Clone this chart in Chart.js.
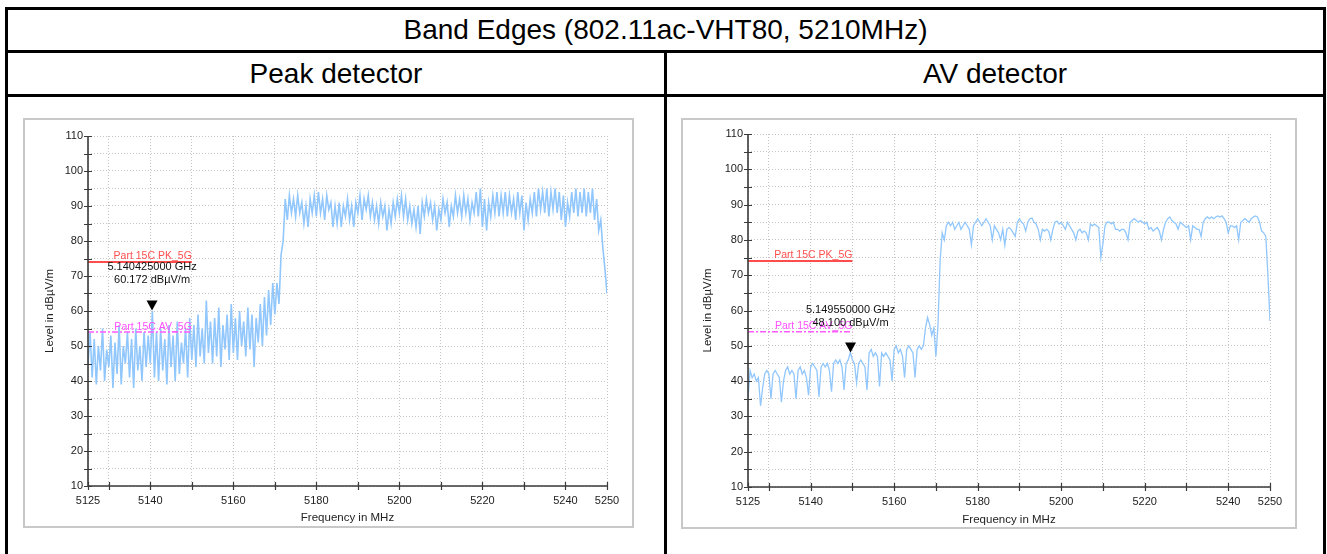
<!DOCTYPE html>
<html>
<head>
<meta charset="utf-8">
<title>Band Edges</title>
<script src="https://cdn.jsdelivr.net/npm/chart.js@4.4.0/dist/chart.umd.min.js"></script>
<style>
  body { margin: 0; background: #fff; font-family: "Liberation Sans", Arial, sans-serif; }
  #page { position: relative; width: 1327px; height: 554px; overflow: hidden; background: #fff; }
  .rule { position: absolute; background: #000; }
  .cell { position: absolute; display: flex; align-items: center; justify-content: center;
          font-size: 28px; color: #000; white-space: nowrap; }
  .plot-box { position: absolute; border: 2px solid #c8c8c8; background: #fff; }
  .plot-box canvas { display: block; }
</style>
</head>
<body>
<div id="page">
  <div class="rule" style="left:5px;top:7px;width:1321px;height:3px"></div>
  <div class="rule" style="left:5px;top:50px;width:1321px;height:3px"></div>
  <div class="rule" style="left:5px;top:94px;width:1321px;height:3px"></div>
  <div class="rule" style="left:5px;top:7px;width:3px;height:547px"></div>
  <div class="rule" style="left:1323px;top:7px;width:3px;height:547px"></div>
  <div class="rule" style="left:664px;top:50px;width:3px;height:504px"></div>

  <div class="cell" style="left:8px;top:10px;width:1315px;height:40px">Band Edges (802.11ac-VHT80, 5210MHz)</div>
  <div class="cell" style="left:8px;top:53px;width:656px;height:41px">Peak detector</div>
  <div class="cell" style="left:667px;top:53px;width:656px;height:41px">AV detector</div>

  <div class="plot-box" style="left:23px;top:118px;width:607px;height:406px">
    <canvas id="peakChart" width="607" height="406"></canvas>
  </div>
  <div class="plot-box" style="left:681px;top:118px;width:612px;height:407px">
    <canvas id="avChart" width="612" height="407"></canvas>
  </div>
</div>

<script>
// sweep: 5125 MHz start, 0.5 MHz per sample
const freqStart = 5125;
const freqStep = 0.5;

// peak detector trace, dBµV/m (one row = 5 MHz)
const peakLevels = [
  45, 54, 41, 52, 39, 50, 43, 55, 40, 49,
  44, 53, 38, 51, 42, 56, 39, 50, 45, 54,
  41, 52, 38, 55, 43, 50, 40, 54, 44, 53,
  45, 60, 41, 54, 40, 55, 43, 52, 39, 56,
  44, 53, 40, 57, 42, 51, 45, 55, 41, 58,
  46, 56, 44, 59, 47, 55, 45, 63, 48, 57,
  45, 58, 47, 61, 44, 56, 49, 59, 46, 62,
  48, 58, 46, 60, 50, 57, 47, 61, 49, 59,
  44, 58, 51, 62, 50, 64, 53, 66, 56, 68,
  59, 68, 62, 76, 80, 92, 86, 93, 88, 92,
  87, 93, 88, 91, 85, 90, 84, 92, 88, 93,
  87, 94, 88, 92, 86, 93, 89, 91, 84, 90,
  85, 91, 84, 90, 87, 92, 86, 90, 84, 91,
  88, 93, 86, 92, 89, 93, 87, 91, 86, 90,
  85, 91, 87, 90, 83, 89, 85, 91, 87, 92,
  88, 93, 87, 92, 86, 90, 85, 89, 84, 90,
  82, 91, 87, 92, 88, 91, 86, 90, 83, 89,
  86, 92, 88, 91, 84, 90, 87, 93, 88, 92,
  87, 93, 88, 92, 86, 91, 88, 94, 87, 95,
  84, 92, 83, 91, 87, 93, 88, 94, 87, 93,
  88, 94, 87, 93, 88, 92, 86, 94, 88, 93,
  83, 91, 86, 92, 88, 94, 87, 95, 89, 94,
  88, 95, 87, 94, 89, 95, 88, 94, 86, 93,
  84, 91, 87, 94, 88, 95, 87, 94, 88, 95,
  87, 94, 88, 95, 86, 92, 83, 86, 78, 72,
  65
];

// average detector trace, dBµV/m (one row = 5 MHz)
const avLevels = [
  35, 43, 41, 42, 40, 41, 33, 38, 42, 43,
  42, 35, 42, 43, 42, 41, 34, 40, 43, 44,
  42, 43, 42, 35, 43, 44, 42, 43, 41, 36,
  44, 45, 44, 43, 35.5, 44, 45, 44, 45, 43,
  37, 45, 46, 45, 46, 44, 37.5, 45, 46, 48.1,
  46, 45, 39.5, 45, 46, 45, 44, 37.5, 48, 49,
  47, 48, 47, 38.5, 48, 47, 48, 47, 46, 40,
  49, 50, 48, 49, 47, 41, 49, 50, 49, 48,
  41, 49, 50, 49, 50, 55, 58, 56, 53, 55,
  47, 56, 74, 82, 80, 84, 85, 84, 85, 83,
  84, 85, 83, 84, 85, 84, 83, 78.6, 84, 85,
  86, 85, 84, 85, 86, 85, 84, 80, 84, 83,
  82, 80, 83, 78.5, 83, 83.5, 83, 82, 81, 85,
  86, 85, 84.5, 82.5, 85, 86, 86.2, 85, 84.5, 83,
  80, 83, 82.5, 83, 82.5, 80, 83, 85, 85.3, 84.5,
  85, 84, 83, 85, 84, 83, 82, 80, 82.5, 83,
  82, 82.5, 82, 80, 84.5, 84, 84.5, 84, 83.5, 75,
  79, 84, 85, 85, 84.5, 85, 83, 83, 82.5, 83,
  83, 82, 80, 85, 85.5, 86, 85.5, 85, 85.5, 85,
  84.5, 85, 83, 83.5, 82.5, 83, 83.5, 82.5, 80, 83,
  85, 86, 86.5, 85.5, 85, 84.5, 83, 85, 84.5, 84,
  83.5, 84, 80, 84, 83.5, 83, 83, 81, 85, 86,
  86.5, 86, 86.5, 86, 86.5, 86.8, 86.5, 86.8, 86, 85,
  82, 84, 84, 83.5, 84, 80, 85, 85.5, 86, 85.5,
  85, 86, 86.5, 86.8, 86.5, 85, 82.5, 82, 81, 70,
  57
];

const freqTicks = [5125, 5130, 5140, 5150, 5160, 5170, 5180, 5190, 5200, 5210, 5220, 5230, 5240, 5250];
const freqLabels = [5125, 5140, 5160, 5180, 5200, 5220, 5240, 5250];
const levelRange = [10, 110];
const levelStep = 5;

// limit lines
const limitSpan = [5125, 5150];
const pkLimit = 74;
const avLimit = 54;

// markers: [MHz, dBµV/m]
const peakMarker = [5140.425, 60.172];
const avMarker = [5149.55, 48.1];

const FONT = '"Liberation Sans", Arial, sans-serif';
const INK = '#222';

// axis lines with crossing ticks, limit captions and the marker
const overlay = {
  id: 'overlay',
  afterDatasetsDraw(chart, args, opts) {
    const { ctx, chartArea: a, scales: { x, y } } = chart;
    ctx.save();

    ctx.strokeStyle = '#3a3a3a';
    ctx.lineWidth = 1.6;
    ctx.beginPath();
    ctx.moveTo(a.left, a.top);
    ctx.lineTo(a.left, a.bottom);
    ctx.lineTo(a.right, a.bottom);
    ctx.stroke();

    ctx.lineWidth = 1.2;
    ctx.beginPath();
    y.ticks.forEach(t => {
      const py = Math.round(y.getPixelForValue(t.value)) + 0.5;
      ctx.moveTo(a.left - 4, py);
      ctx.lineTo(a.left + 4, py);
    });
    x.ticks.forEach(t => {
      const px = Math.round(x.getPixelForValue(t.value)) + 0.5;
      ctx.moveTo(px, a.bottom - 4);
      ctx.lineTo(px, a.bottom + 4);
    });
    ctx.stroke();

    const lx = x.getPixelForValue(limitSpan[1]);
    ctx.font = '10.5px ' + FONT;
    ctx.textAlign = 'right';
    ctx.textBaseline = 'alphabetic';
    ctx.fillStyle = '#ff4f4f';
    ctx.fillText('Part 15C PK_5G', lx, y.getPixelForValue(pkLimit) - 3);
    ctx.fillStyle = '#ff4fff';
    ctx.fillText('Part 15C AV_5G', lx, y.getPixelForValue(avLimit) - 2.5);

    const [mf, ml] = opts.marker;
    const mx = x.getPixelForValue(mf);
    const my = y.getPixelForValue(ml);
    ctx.fillStyle = '#000';
    ctx.beginPath();
    ctx.moveTo(mx, my);
    ctx.lineTo(mx - 5.5, my - 10);
    ctx.lineTo(mx + 5.5, my - 10);
    ctx.closePath();
    ctx.fill();

    ctx.font = '11px ' + FONT;
    ctx.textAlign = 'center';
    ctx.fillStyle = '#111';
    ctx.fillText((mf / 1000).toFixed(9) + ' GHz', mx, my - 40);
    ctx.fillText(ml.toFixed(3) + ' dBµV/m', mx, my - 27);

    ctx.restore();
  }
};

function buildChart(id, levels, marker, fit) {
  const trace = levels.map((v, i) => ({ x: freqStart + i * freqStep, y: v }));
  const limitLine = lvl => limitSpan.map(f => ({ x: f, y: lvl }));

  return new Chart(document.getElementById(id), {
    type: 'line',
    data: {
      datasets: [
        { data: limitLine(pkLimit), borderColor: '#ff4d4d', borderWidth: 2 },
        { data: limitLine(avLimit), borderColor: '#ff5cff', borderWidth: 1.5, borderDash: [6, 2, 2, 2] },
        { data: trace, borderColor: 'rgb(145,199,252)', borderWidth: fit.traceWidth }
      ]
    },
    options: {
      responsive: false,
      animation: false,
      devicePixelRatio: 1,
      elements: { point: { radius: 0 }, line: { tension: 0 } },
      layout: { padding: { top: fit.top, right: fit.right, left: 0, bottom: 0 } },
      plugins: {
        legend: { display: false },
        tooltip: { enabled: false },
        overlay: { marker }
      },
      scales: {
        x: {
          type: 'linear',
          min: freqTicks[0],
          max: freqTicks[freqTicks.length - 1],
          afterBuildTicks: s => { s.ticks = freqTicks.map(v => ({ value: v })); },
          afterFit: s => { s.height = fit.bottom; },
          grid: { color: '#c4c4c4', lineWidth: 1, drawTicks: false },
          border: { display: false, dash: [1, 2] },
          ticks: {
            autoSkip: false, maxRotation: 0, padding: 8,
            font: { family: FONT, size: 11 }, color: INK,
            callback: v => freqLabels.includes(v) ? String(v) : ''
          },
          title: {
            display: true, text: 'Frequency in MHz',
            font: { family: FONT, size: 11.5 }, color: INK,
            padding: { top: 0, bottom: fit.titleBottom }
          }
        },
        y: {
          min: levelRange[0],
          max: levelRange[1],
          afterFit: s => { s.width = fit.left; },
          grid: { color: '#c4c4c4', lineWidth: 1, drawTicks: false },
          border: { display: false, dash: [1, 2] },
          ticks: {
            stepSize: levelStep, padding: 5,
            font: { family: FONT, size: 11 }, color: INK,
            callback: v => v % 10 === 0 ? String(v) : ''
          },
          title: {
            display: true, text: 'Level in dBµV/m',
            font: { family: FONT, size: 11.5 }, color: INK,
            padding: { top: 18, bottom: 0 }
          }
        }
      }
    },
    plugins: [overlay]
  });
}

buildChart('peakChart', peakLevels, peakMarker, { left: 63, right: 25, top: 16, bottom: 40, titleBottom: 1, traceWidth: 1.6 });
buildChart('avChart', avLevels, avMarker, { left: 65, right: 25, top: 14, bottom: 40, titleBottom: 0, traceWidth: 1.3 });
</script>
</body>
</html>
